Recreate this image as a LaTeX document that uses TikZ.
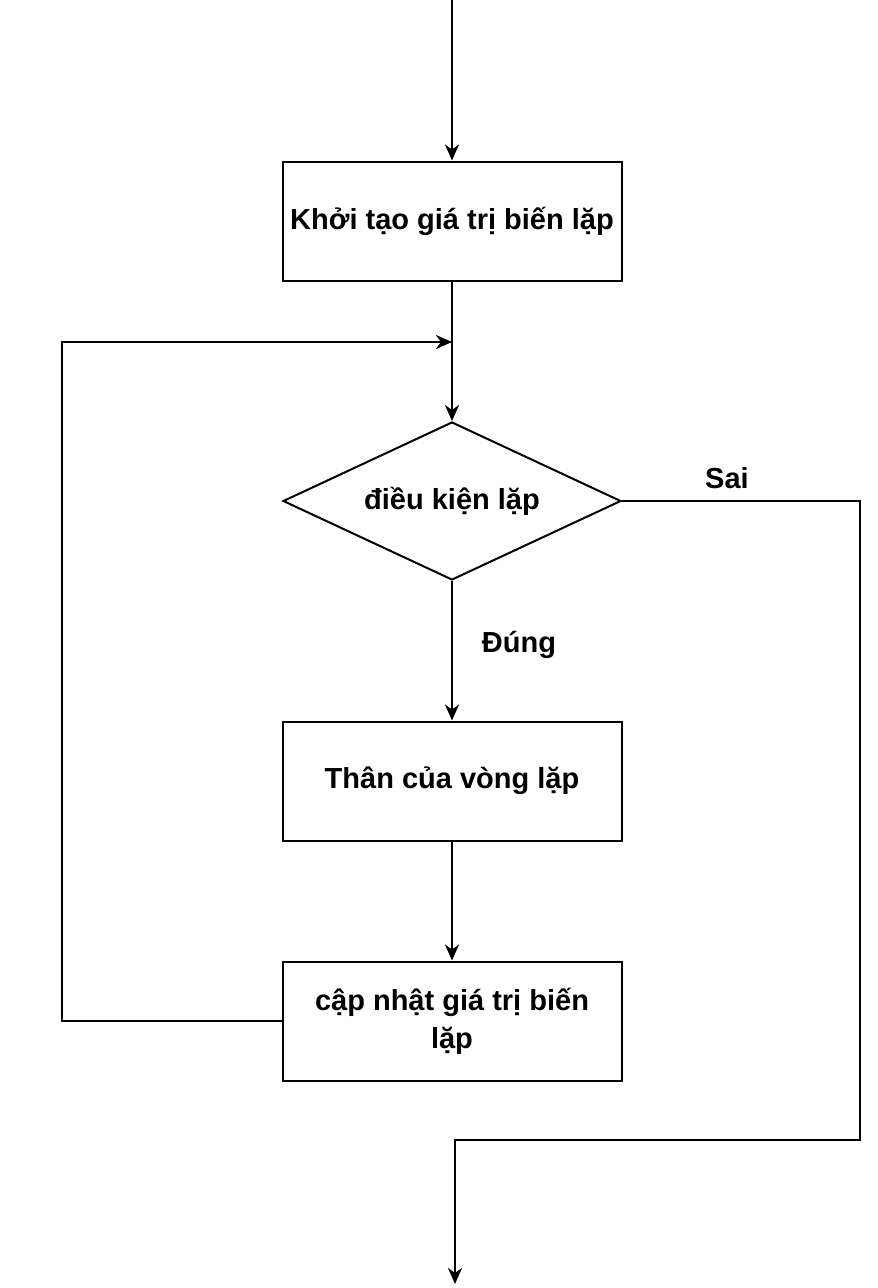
\documentclass[tikz,border=0pt]{standalone}
\usepackage{fontspec}
\setmainfont{Liberation Sans}
\usetikzlibrary{shapes.geometric,arrows.meta}

\begin{document}
\begin{tikzpicture}[x=1pt,y=-1pt,
    font=\fontsize{29}{38}\selectfont\bfseries,
    line width=2pt,
    flowbox/.style={draw, rectangle, minimum width=339pt, minimum height=119pt, align=center, inner sep=0pt},
    decision/.style={draw, diamond, aspect=2.14, minimum width=338pt, minimum height=158pt, inner sep=0pt},
    flowline/.style={-{Stealth[length=16pt,width=14pt,inset=5pt]}}]

    % Frame of the picture
    \useasboundingbox (0,0) rectangle (878,1288);

    % Steps of the loop
    \node[flowbox] (init) at (452,221) {Khởi tạo giá trị biến lặp};
    \node[decision] (cond) at (452,501) {điều kiện lặp};
    \node[flowbox] (body) at (452,781) {Thân của vòng lặp};
    \node[flowbox] (update) at (452,1021) {cập nhật giá trị biến\\lặp};

    % Free ends and corners
    \coordinate (start) at (452,0);
    \coordinate (join) at (452,342);
    \coordinate (loopcorner) at (62,342);
    \coordinate (saicorner) at (860,1140);
    \coordinate (exit) at (455,1284);

    % Main flow
    \draw[flowline] (start) -- (init.north);
    \draw[flowline] (init.south) -- (cond.north);
    \draw[flowline] (cond.south) -- (body.north);
    \draw[flowline] (body.south) -- (update.north);

    % Back to the condition
    \draw[flowline] (update.west) -| (loopcorner) -- (join);

    % Leaving the loop
    \draw[flowline] (cond.east) -| (saicorner) -| (exit);

    % Branch labels
    \node at (727,478) {Sai};
    \node at (519,645) {Đúng};
\end{tikzpicture}
\end{document}
